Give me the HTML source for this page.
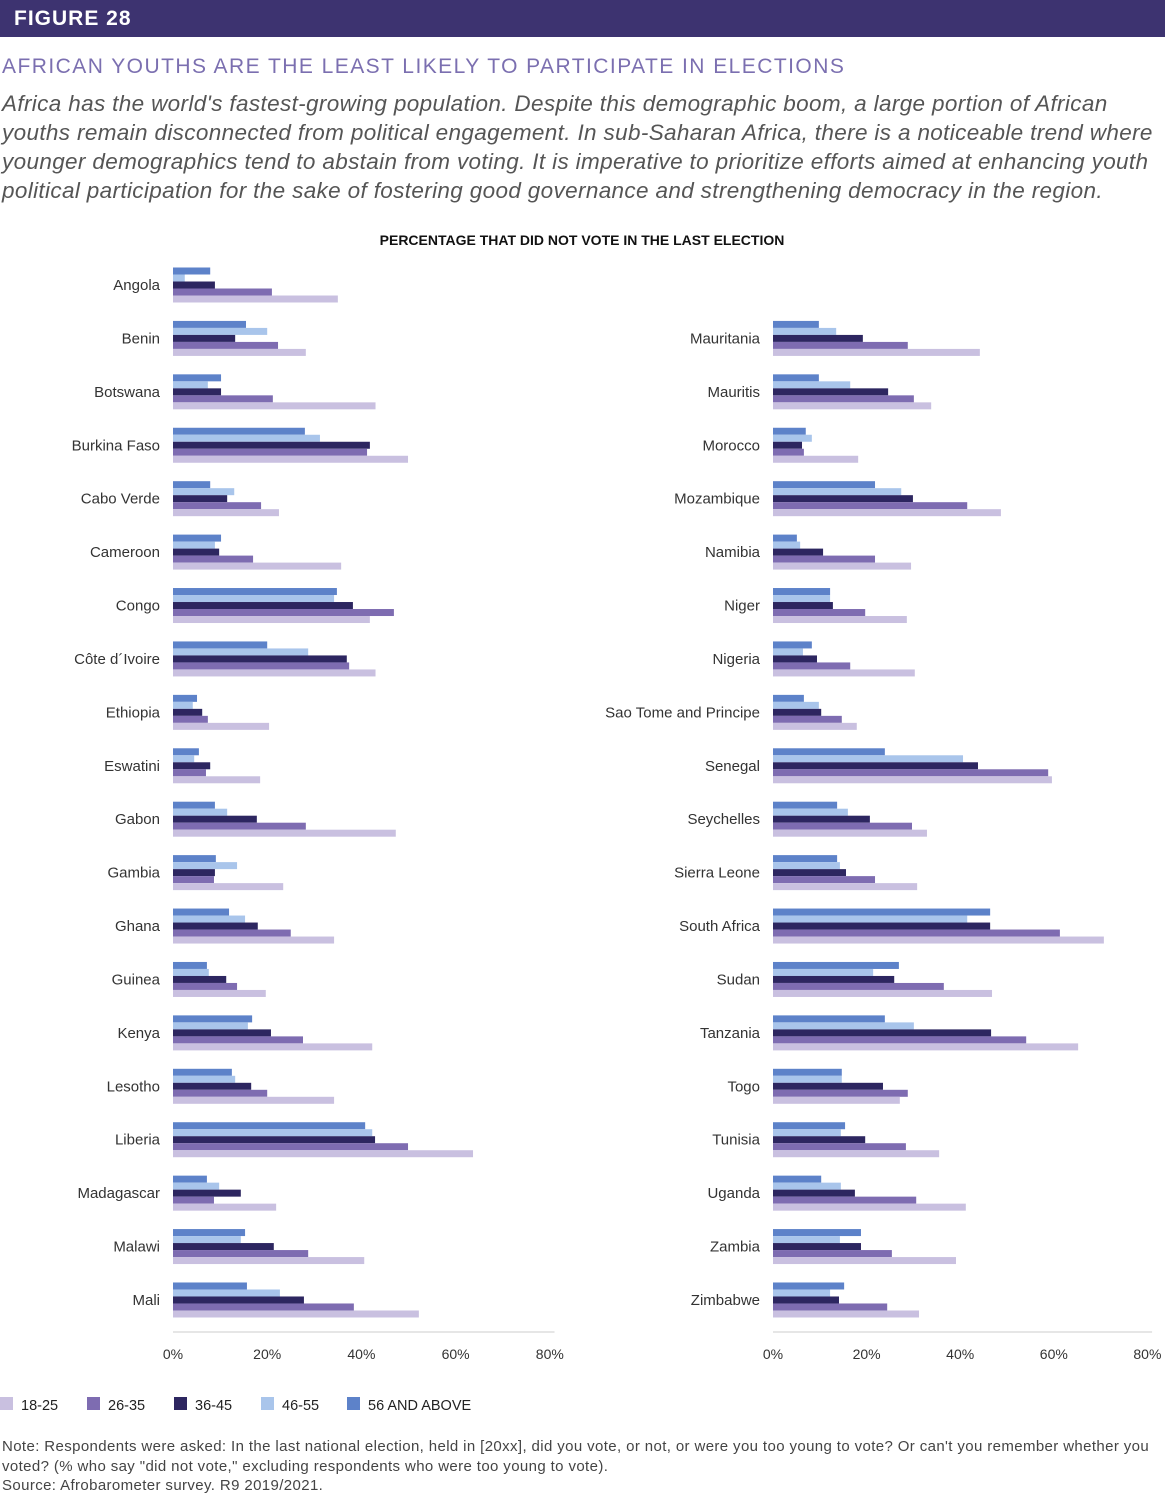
<!DOCTYPE html>
<html><head><meta charset="utf-8">
<style>
body{margin:0;width:1165px;height:1500px;background:#fff;font-family:"Liberation Sans",sans-serif;overflow:hidden;position:relative}
.hdr{position:absolute;left:0;top:0;width:1165px;height:37px;background:#3d3370;color:#fff;font-weight:bold;font-size:21px;line-height:37px;padding-left:14px;box-sizing:border-box;letter-spacing:1px}
.ttl{position:absolute;left:2px;top:55px;font-size:21px;color:#7b6fb0;letter-spacing:1.45px;white-space:nowrap}
.sub{position:absolute;left:2px;top:89px;width:1200px;font-size:22.5px;font-style:italic;color:#555;line-height:29px;white-space:nowrap;letter-spacing:0.35px}
.note{position:absolute;left:2px;top:1437px;font-size:15px;color:#444;line-height:19.5px;width:1200px;white-space:nowrap;letter-spacing:0.38px}
svg{position:absolute;left:0;top:0}
</style></head><body>
<div class="hdr">FIGURE 28</div>
<div class="ttl">AFRICAN YOUTHS ARE THE LEAST LIKELY TO PARTICIPATE IN ELECTIONS</div>
<div class="sub">Africa has the world's fastest-growing population. Despite this demographic boom, a large portion of African<br>youths remain disconnected from political engagement. In sub-Saharan Africa, there is a noticeable trend where<br>younger demographics tend to abstain from voting. It is imperative to prioritize efforts aimed at enhancing youth<br>political participation for the sake of fostering good governance and strengthening democracy in the region.</div>
<svg id="chart" width="1165" height="1500"></svg>
<div class="note">Note: Respondents were asked: In the last national election, held in [20xx], did you vote, or not, or were you too young to vote? Or can't you remember whether you<br>voted? (% who say "did not vote," excluding respondents who were too young to vote).<br>Source: Afrobarometer survey. R9 2019/2021.</div>
<script>
const leftCountries=["Angola","Benin","Botswana","Burkina Faso","Cabo Verde","Cameroon","Congo","Côte d´Ivoire","Ethiopia","Eswatini","Gabon","Gambia","Ghana","Guinea","Kenya","Lesotho","Liberia","Madagascar","Malawi","Mali"];
const rightCountries=["Mauritania","Mauritis","Morocco","Mozambique","Namibia","Niger","Nigeria","Sao Tome and Principe","Senegal","Seychelles","Sierra Leone","South Africa","Sudan","Tanzania","Togo","Tunisia","Uganda","Zambia","Zimbabwe"];
const seriesNames=["56 AND ABOVE","46-55","36-45","26-35","18-25"];
const leftS56=[7.9,15.5,10.2,28,7.9,10.2,34.8,20,5.1,5.5,8.9,9.1,11.9,7.2,16.8,12.5,40.8,7.2,15.3,15.7];
const leftS46=[2.5,20,7.4,31.2,13,8.9,34.2,28.7,4.2,4.5,11.5,13.6,15.3,7.6,15.9,13.2,42.3,9.8,14.4,22.7];
const leftS36=[8.9,13.2,10.2,41.8,11.5,9.8,38.2,36.9,6.2,7.9,17.8,8.9,18,11.3,20.8,16.6,42.9,14.4,21.4,27.8];
const leftS26=[21,22.3,21.2,41.2,18.7,17,46.9,37.4,7.4,7,28.2,8.7,25,13.6,27.6,20,49.9,8.7,28.7,38.4];
const leftS18=[35,28.2,43,49.9,22.5,35.7,41.8,43,20.4,18.5,47.3,23.4,34.2,19.7,42.3,34.2,63.7,21.9,40.6,52.2];
const rightS56=[9.8,9.8,7,21.8,5.1,12.2,8.3,6.6,23.9,13.7,13.7,46.4,26.9,23.9,14.7,15.4,10.3,18.8,15.2];
const rightS46=[13.5,16.5,8.3,27.4,5.8,12.2,6.4,9.8,40.6,16,14.3,41.5,21.4,30.1,14.7,14.5,14.5,14.3,12.2];
const rightS36=[19.2,24.6,6.2,29.9,10.7,12.8,9.4,10.3,43.8,20.7,15.6,46.4,25.9,46.6,23.5,19.7,17.5,18.8,14.1];
const rightS26=[28.8,30.1,6.6,41.5,21.8,19.7,16.5,14.7,58.8,29.7,21.8,61.3,36.5,54.1,28.8,28.4,30.6,25.4,24.4];
const rightS18=[44.2,33.8,18.2,48.7,29.5,28.6,30.3,17.9,59.6,32.9,30.8,70.7,46.8,65.2,27.1,35.5,41.2,39.1,31.2];
const tickValues=[0,20,40,60,80];
const colors=["#5d82c9","#a9c5eb","#2d2660","#7e6cb1","#c9c0e0"];
const svg=document.getElementById('chart');
const NS="http://www.w3.org/2000/svg";
function mk(tag,attrs,txt){const e=document.createElementNS(NS,tag);for(const k in attrs)e.setAttribute(k,attrs[k]);if(txt!==undefined)e.textContent=txt;svg.appendChild(e);return e;}
function yRow(i){return 285+i*53.42;}
function panel(x0,scale,startRow,countries,series,prefix){
  const xs=v=>x0+v*scale;
  countries.forEach((c,i)=>{
    const yc=yRow(i+startRow);
    const t=mk('text',{x:x0>500?760:160,y:yc+5,'text-anchor':'end','font-size':15,fill:'#333'},c);
    
    
    series.forEach((arr,s)=>{
      const r=mk('rect',{x:x0,y:yc-17.5+s*7,width:Math.max(0,xs(arr[i])-x0),height:7,fill:colors[s]});
      
      
    });
  });
  const ax=mk('line',{x1:x0,x2:xs(81),y1:1332,y2:1332,stroke:'#ccc','stroke-width':1});
  
  
  tickValues.forEach(v=>{
    const t=mk('text',{x:xs(v),y:1359,'text-anchor':'middle','font-size':14,fill:'#333'},v+'%');
    
    
  });
}
panel(173,4.71,0,leftCountries,[leftS56,leftS46,leftS36,leftS26,leftS18],'left');
panel(773,4.68,1,rightCountries,[rightS56,rightS46,rightS36,rightS26,rightS18],'right');
const ct=mk('text',{x:582,y:245,'text-anchor':'middle','font-size':14,'font-weight':'bold',fill:'#111'},'PERCENTAGE THAT DID NOT VOTE IN THE LAST ELECTION');


const legendOrder=[4,3,2,1,0];
const legendLabels=["18-25","26-35","36-45","46-55","56 AND ABOVE"];
const legendX=[0,87,174,261,347];
legendOrder.forEach((s,k)=>{
  const r=mk('rect',{x:legendX[k],y:1397,width:13,height:13,fill:colors[s]});
  
  
  const t=mk('text',{x:legendX[k]+21,y:1410,'font-size':14.5,fill:'#222'},legendLabels[k]);
  
  
});
</script>
</body></html>
